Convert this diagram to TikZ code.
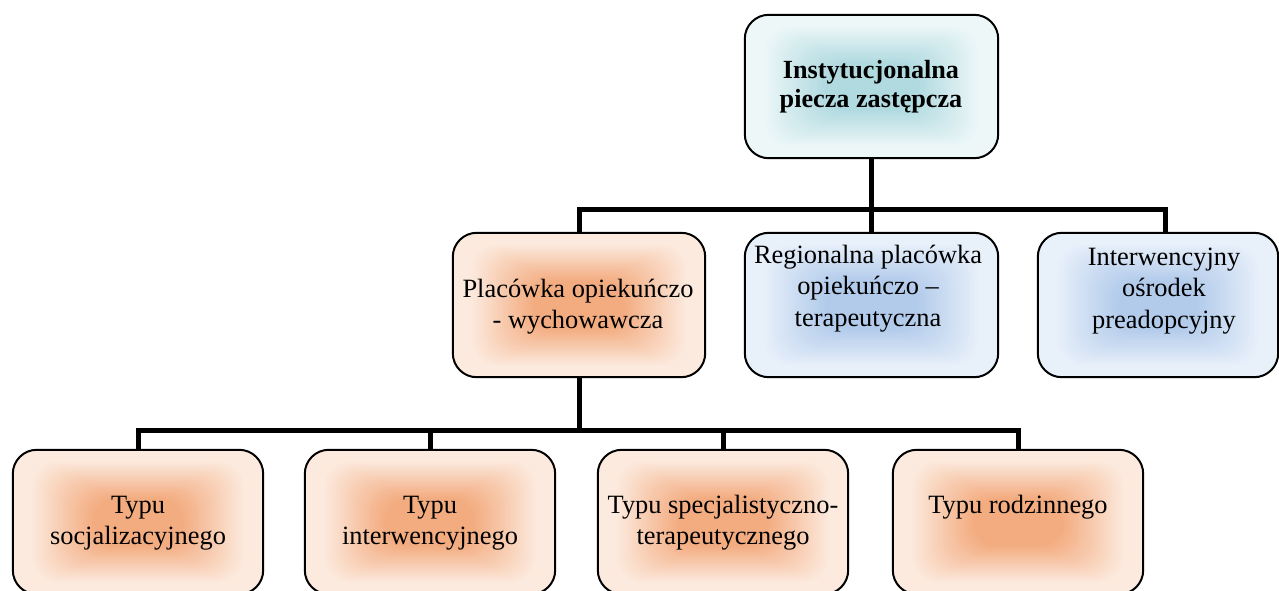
\documentclass[tikz,border=0pt]{standalone}
\usepackage{fontspec}
\setmainfont{Liberation Serif}
\definecolor{topC}{RGB}{176,218,224}
\definecolor{topE}{RGB}{237,247,248}
\definecolor{orC}{RGB}{243,172,128}
\definecolor{orE}{RGB}{252,234,222}
\definecolor{blC}{RGB}{178,203,235}
\definecolor{blE}{RGB}{232,240,250}
\newcommand\mylines[1]{\vtop{\halign{\hfil##\hfil\cr#1\crcr}}}
% inner glow: #1 node name, #2 centre colour, #3 edge colour
\newcommand\glowbox[3]{%
  \foreach \k in {0,...,32}{%
    \pgfmathsetmacro\tt{\k/32}%
    \pgfmathsetmacro\hx{18+62*\tt}%
    \pgfmathsetmacro\vy{11+37*\tt}%
    \pgfmathtruncatemacro\pc{100*\tt}%
    \fill[#2!\pc!#3, rounded corners=24pt]
      ([xshift=\hx pt, yshift=-\vy pt]#1.north west) rectangle
      ([xshift=-\hx pt, yshift=\vy pt]#1.south east);
  }%
  \draw[line width=2pt, rounded corners=24pt] (#1.north west) rectangle (#1.south east);
}
\tikzset{
  box/.style={fill=#1, inner sep=0pt, minimum height=144pt},
  conn/.style={line width=5pt, line join=miter, draw=black},
  txt/.style={anchor=base, inner sep=0pt, font=\fontsize{26.4}{31.5}\selectfont},
  btxt/.style={anchor=base, inner sep=0pt, font=\fontsize{26.2}{29}\selectfont\bfseries},
}
\begin{document}
\begin{tikzpicture}[x=1pt,y=-1pt]
\useasboundingbox (0,0) rectangle (1279,590);
\clip (0,0) rectangle (1279,590);
% boxes
\node[box=topE, rounded corners=24pt, minimum width=253pt, minimum height=143pt] (top) at (871.5,86.5) {};
\node[box=orE, rounded corners=24pt, minimum width=252pt] (pl) at (579,305) {};
\node[box=blE, rounded corners=24pt, minimum width=253pt] (rg) at (871.5,305) {};
\node[box=blE, rounded corners=24pt, minimum width=240pt] (ip) at (1158,305) {};
\node[box=orE, rounded corners=24pt, minimum width=250pt] (b1) at (138,522) {};
\node[box=orE, rounded corners=24pt, minimum width=250pt] (b2) at (430,522) {};
\node[box=orE, rounded corners=24pt, minimum width=250pt] (b3) at (723,522) {};
\node[box=orE, rounded corners=24pt, minimum width=250pt] (b4) at (1018,522) {};
\glowbox{top}{topC}{topE}
\glowbox{pl}{orC}{orE}
\glowbox{rg}{blC}{blE}
\glowbox{ip}{blC}{blE}
\glowbox{b1}{orC}{orE}
\glowbox{b2}{orC}{orE}
\glowbox{b3}{orC}{orE}
\glowbox{b4}{orC}{orE}
% texts
\node[btxt] (ttop) at (871,78) {\mylines{Instytucjonalna\cr piecza zastępcza}};
\node[txt] (tpl) at (578,297) {\mylines{Placówka opiekuńczo\cr - wychowawcza}};
\node[txt] (trg) at (868,263) {\mylines{Regionalna placówka\cr opiekuńczo –\cr terapeutyczna}};
\node[txt] (tip) at (1164,265) {\mylines{Interwencyjny\cr ośrodek\cr preadopcyjny}};
\node[txt] (tb1) at (138,513) {\mylines{Typu\cr socjalizacyjnego}};
\node[txt] (tb2) at (430,513) {\mylines{Typu\cr interwencyjnego}};
\node[txt] (tb3) at (723,513) {\mylines{Typu specjalistyczno-\cr terapeutycznego}};
\node[txt] (tb4) at (1018,513) {\mylines{Typu rodzinnego}};
% connectors
\coordinate (j1) at (872,209);
\coordinate (j2) at (578,430);
\draw[conn] (top.south) -- (top.south |- j1);
\draw[conn] (pl.north) |- ([xshift=7pt]ip.north |- j1) -- ([xshift=7pt]ip.north);
\draw[conn] (rg.north) -- (rg.north |- j1);
\draw[conn] (pl.south) -- (pl.south |- j2);
\draw[conn] (b1.north) |- (b4.north |- j2) -- (b4.north);
\draw[conn] (b2.north) -- (b2.north |- j2);
\draw[conn] (b3.north) -- (b3.north |- j2);
\end{tikzpicture}
\end{document}
